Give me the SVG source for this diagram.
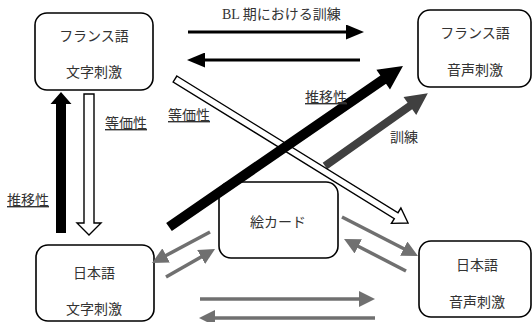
<svg xmlns="http://www.w3.org/2000/svg" width="532" height="322" viewBox="0 0 532 322">
<style>
.box{fill:#fff;stroke:#000;stroke-width:1.6}
.t{font-family:"Liberation Serif","Noto Sans CJK JP",serif;font-size:14px;fill:#333}
.m{text-anchor:middle}
.u{text-decoration:underline}
.bl{stroke:#000;stroke-width:3;fill:none}
.gr{stroke:#707070;stroke-width:3.5;fill:none}
.hol{fill:#fff;stroke:#000;stroke-width:1.4;stroke-linejoin:miter}
</style>
<defs>
<marker id="ab" markerUnits="userSpaceOnUse" markerWidth="18" markerHeight="15" refX="4" refY="7.5" orient="auto"><path d="M0,0 L18,7.5 L0,15 z" fill="#000"/></marker>
<marker id="ag" markerUnits="userSpaceOnUse" markerWidth="16" markerHeight="16" refX="4" refY="8" orient="auto"><path d="M0,0 L16,8 L0,16 z" fill="#707070"/></marker>
</defs>
<g id="fr-text">
<rect class="box" x="35" y="13" width="118" height="77" rx="12"/>
<text class="t m" x="94" y="41">フランス語</text>
<text class="t m" x="94" y="77">文字刺激</text>
</g>
<g id="fr-audio">
<rect class="box" x="418" y="10" width="113" height="77" rx="12"/>
<text class="t m" x="475" y="38">フランス語</text>
<text class="t m" x="475" y="75">音声刺激</text>
</g>
<g id="jp-text">
<rect class="box" x="36" y="245" width="118" height="76" rx="12"/>
<text class="t m" x="94" y="278">日本語</text>
<text class="t m" x="94" y="314">文字刺激</text>
</g>
<g id="jp-audio">
<rect class="box" x="419" y="241" width="112" height="76" rx="12"/>
<text class="t m" x="477" y="270">日本語</text>
<text class="t m" x="477" y="307">音声刺激</text>
</g>
<g id="picture-card">
<rect class="box" x="219" y="182" width="119" height="76" rx="12"/>
<text class="t m" x="278" y="227">絵カード</text>
</g>
<g id="connectors">
<line class="bl" x1="188" y1="32" x2="350" y2="32" marker-end="url(#ab)"/>
<line class="bl" x1="360" y1="60" x2="201" y2="60" marker-end="url(#ab)"/>
<line class="gr" x1="210" y1="232" x2="162.6" y2="257.3" marker-end="url(#ag)"/>
<line class="gr" x1="166" y1="277" x2="204.6" y2="255" marker-end="url(#ag)"/>
<line class="gr" x1="342" y1="217" x2="407.3" y2="250.5" marker-end="url(#ag)"/>
<line class="gr" x1="406" y1="271" x2="354.7" y2="244.5" marker-end="url(#ag)"/>
<line class="gr" x1="200" y1="299" x2="363" y2="299" marker-end="url(#ag)"/>
<line class="gr" x1="375" y1="318" x2="211" y2="318" marker-end="url(#ag)"/>
<polygon fill="#404040" transform="translate(325,166) rotate(-35.3)" points="0,-4 104,-4 104,-11 126,0 104,11 104,4 0,4"/>
<polygon class="hol" transform="translate(175,79) rotate(31.72)" points="0,-3.5 260,-3.5 260,-9 274,0 260,9 260,3.5 0,3.5"/>
<polygon fill="#000" transform="translate(169,227) rotate(-34.53)" points="0,-5 260,-5 260,-12 284,0 260,12 260,5 0,5"/>
<polygon fill="#000" points="56,233 56,104 50.5,104 61,92 71.5,104 66,104 66,233"/>
<polygon class="hol" points="84,94 94,94 94,223 101,223 89,235 77,223 84,223"/>
</g>
<text class="t" x="222" y="19">BL 期における訓練</text>
<text class="t u" x="105" y="128">等価性</text>
<text class="t u" x="168" y="120">等価性</text>
<text class="t u" x="305" y="102">推移性</text>
<text class="t" x="390" y="142">訓練</text>
<text class="t u" x="7" y="205">推移性</text>
</svg>
